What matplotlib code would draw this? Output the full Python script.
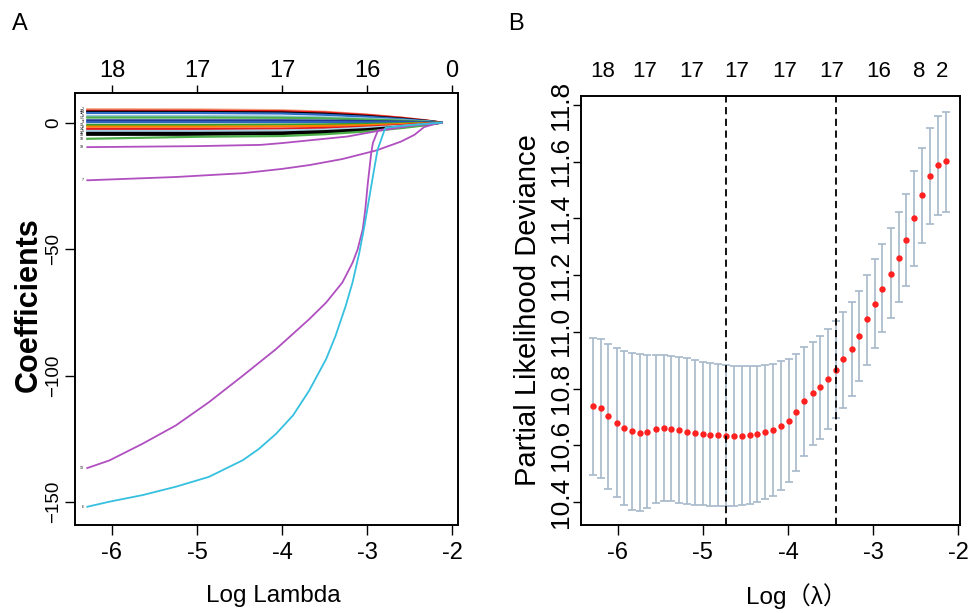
import matplotlib.pyplot as plt
import numpy as np

plt.rcParams['font.family'] = ['Liberation Sans', 'DejaVu Sans']
CJK = ['Liberation Sans', 'Noto Sans CJK SC', 'DejaVu Sans']

# ---------------- panel A : coefficient paths ----------------
knots = [-6.29, -5.0, -4.0, -3.5, -3.0, -2.6, -2.3, -2.12]
bundle = [
    ('#f4a582', [5.3, 5.2, 4.9, 4.3, 3.2, 2.0, 0.9, 0]),
    ('#e41a1c', [4.7, 4.7, 4.5, 4.0, 3.0, 1.9, 0.8, 0]),
    ('black',   [4.3, 4.2, 4.0, 3.5, 2.6, 1.6, 0.7, 0]),
    ('#2f6bc4', [3.8, 3.8, 3.6, 3.1, 2.3, 1.4, 0.6, 0]),
    ('#92c5de', [2.6, 2.6, 2.4, 2.1, 1.6, 1.0, 0.4, 0]),
    ('#4daf4a', [2.0, 2.0, 1.9, 1.7, 1.2, 0.8, 0.3, 0]),
    ('#1f3a93', [0.9, 0.9, 0.9, 0.8, 0.6, 0.4, 0.2, 0]),
    ('#3060c0', [0.2, 0.2, 0.2, 0.2, 0.1, 0.1, 0.0, 0]),
    ('#33a02c', [-0.9, -0.9, -0.8, -0.7, -0.5, -0.3, -0.1, 0]),
    ('#ff7f00', [-1.6, -1.6, -1.5, -1.3, -1.0, -0.6, -0.3, 0]),
    ('#e41a1c', [-2.5, -2.5, -2.4, -2.1, -1.6, -1.0, -0.4, 0]),
    ('#a6cee3', [-3.3, -3.3, -3.1, -2.8, -2.0, -1.3, -0.6, 0]),
    ('black',   [-4.1, -4.1, -3.9, -3.4, -2.6, -1.6, -0.7, 0]),
    ('black',   [-4.8, -4.8, -4.5, -4.0, -3.0, -1.9, -0.8, 0]),
    ('#4daf4a', [-6.4, -5.6, -5.3, -4.6, -3.5, -2.2, -1.0, 0]),
]
bundle_ids = ['2', '15', '4', '11', '9', '17', '1', '3', '12', '8', '14', '5', '16', '18', '10']

p10_x = [-6.29, -5.0, -4.25, -4.0, -3.23, -2.87, -2.44, -2.12]
p10_y = [-9.7, -9.3, -8.8, -8.1, -5.5, -3.3, -1.0, 0]

p7_x = [-6.29, -5.25, -4.46, -4.0, -3.68, -3.29, -2.89, -2.6, -2.44, -2.33, -2.2, -2.12]
p7_y = [-22.8, -21.5, -20.0, -18.3, -16.8, -14.4, -11.0, -7.5, -4.8, -1.8, -0.5, 0]

p13_x = [-6.29, -6.03, -5.64, -5.25, -4.86, -4.46, -4.07, -3.68, -3.48, -3.29, -3.17,
         -3.11, -3.05, -3.02, -2.99, -2.95, -2.93, -2.87, -2.5, -2.12]
p13_y = [-136.5, -133.5, -126.9, -119.7, -110.5, -100.0, -89.5, -77.7, -71.1, -63.2, -55.4,
         -50.1, -42.2, -34.4, -23.9, -12.0, -8.0, -3.0, -1.3, 0]

c6_x = [-6.29, -6.03, -5.64, -5.25, -4.86, -4.46, -4.27, -4.07, -3.87, -3.68, -3.48, -3.37,
        -3.25, -3.17, -3.09, -3.03, -2.97, -2.91, -2.875, -2.80, -2.78, -2.5, -2.12]
c6_y = [-151.8, -149.8, -147.2, -143.9, -140.0, -133.4, -128.9, -123.0, -115.7, -105.9, -93.4, -84.3,
        -72.4, -63.2, -51.4, -40.9, -29.1, -17.3, -10.7, -3.5, -2.0, -1.0, 0]

top_nz_a = ['18', '17', '17', '16', '0']

# ---------------- panel B : cross-validation curve ----------------
log_lam = [-6.29, -6.20, -6.11, -6.01, -5.92, -5.83, -5.74, -5.65, -5.55, -5.46,
           -5.37, -5.28, -5.19, -5.09, -5.00, -4.91, -4.82, -4.73, -4.63, -4.54,
           -4.45, -4.36, -4.27, -4.17, -4.08, -3.99, -3.90, -3.81, -3.71, -3.62,
           -3.53, -3.44, -3.35, -3.25, -3.16, -3.07, -2.98, -2.89, -2.79, -2.70,
           -2.61, -2.52, -2.43, -2.33, -2.24, -2.15]
cvm = [10.738, 10.731, 10.704, 10.680, 10.662, 10.649, 10.643, 10.647, 10.656, 10.660,
       10.656, 10.653, 10.648, 10.643, 10.640, 10.638, 10.635, 10.634, 10.633, 10.634,
       10.635, 10.639, 10.646, 10.654, 10.667, 10.687, 10.716, 10.755, 10.783, 10.804,
       10.833, 10.867, 10.904, 10.940, 10.986, 11.044, 11.100, 11.151, 11.203, 11.259,
       11.325, 11.400, 11.482, 11.551, 11.588, 11.602]
cvup = [10.979, 10.974, 10.958, 10.943, 10.932, 10.926, 10.921, 10.919, 10.917, 10.917,
        10.914, 10.911, 10.907, 10.901, 10.895, 10.891, 10.886, 10.883, 10.881, 10.879,
        10.878, 10.879, 10.882, 10.887, 10.896, 10.905, 10.922, 10.946, 10.966, 10.987,
        11.011, 11.038, 11.070, 11.105, 11.144, 11.199, 11.256, 11.309, 11.365, 11.424,
        11.488, 11.567, 11.649, 11.720, 11.762, 11.774]
cvlo = [10.497, 10.485, 10.447, 10.417, 10.391, 10.373, 10.370, 10.379, 10.396, 10.402,
        10.402, 10.398, 10.394, 10.391, 10.388, 10.387, 10.385, 10.385, 10.387, 10.389,
        10.392, 10.399, 10.409, 10.422, 10.444, 10.471, 10.510, 10.563, 10.600, 10.623,
        10.656, 10.696, 10.733, 10.775, 10.826, 10.883, 10.943, 11.000, 11.050, 11.105,
        11.162, 11.233, 11.312, 11.380, 11.414, 11.424]
lam_min = -4.73
lam_1se = -3.44
top_pos_b = [-6.17, -5.68, -5.13, -4.60, -4.04, -3.49, -2.93, -2.46, -2.19]
top_nz_b = ['18', '17', '17', '17', '17', '17', '16', '8', '2']

fig = plt.figure(figsize=(9.76, 6.13), dpi=100)

# ---------- A ----------
axA = fig.add_axes([0.0768, 0.1436, 0.3924, 0.7047])
for (col, vals), lab in zip(bundle, bundle_ids):
    axA.plot(knots, vals, color=col, lw=1.6)
axA.plot(p10_x, p10_y, color='#b04fc0', lw=1.3)
axA.plot(p7_x, p7_y, color='#b04fc0', lw=1.3)
axA.plot(p13_x, p13_y, color='#b04fc0', lw=1.3)
axA.plot(c6_x, c6_y, color='#35c0e0', lw=1.3)
# tiny variable labels at the path starts (they pile up, as in the original)
lab_y = [v[0] for _, v in bundle] + [p10_y[0], p7_y[0], p13_y[0], c6_y[0]]
lab_t = bundle_ids + ['19', '7', '13', '6']
for yv, t in zip(lab_y, lab_t):
    axA.text(-6.33, yv, t, fontsize=2.5, ha='right', va='center')

axA.set_xlim(-6.435, -1.93)
axA.set_ylim(-159, 11.7)
axA.set_xticks([-6, -5, -4, -3, -2], ['-6', '-5', '-4', '-3', '-2'], fontsize=17)
axA.set_yticks([0, -50, -100, -150], ['0', '\u221250', '\u2212100', '\u2212150'],
               rotation=90, va='center', fontsize=13.5)
axA.tick_params(length=7, width=1, pad=5)
axA.tick_params(axis='y', pad=2)
topA = axA.twiny()
topA.set_xlim(axA.get_xlim())
topA.set_xticks([-6, -5, -4, -3, -2], top_nz_a, fontsize=17)
topA.tick_params(length=6, width=1, pad=2)
for ax in (axA, topA):
    for s in ax.spines.values():
        s.set_linewidth(1.2)

fig.text(29 / 976, 1 - 305 / 613, 'Coefficients', rotation=90, fontsize=22,
         fontweight='bold', ha='center', va='center')
fig.text(273 / 976, 1 - 596 / 613, 'Log Lambda', fontsize=17.5,
         ha='center', va='center')
fig.text(20 / 976, 1 - 24 / 613, 'A', fontsize=17, ha='center', va='center')

# ---------- B ----------
axB = fig.add_axes([0.5953, 0.1436, 0.3883, 0.6998])
lam = np.array(log_lam)
m = np.array(cvm)
axB.errorbar(lam, m, yerr=[m - np.array(cvlo), np.array(cvup) - m], fmt='none',
             ecolor='#a7b9c9', elinewidth=1.2, capsize=2.6, capthick=1.2)
axB.plot(lam, m, 'o', color='#ff2020', ms=4.6, mec='none')
axB.axvline(lam_min, color='black', lw=1.3, ls=(0, (4, 2.5)))
axB.axvline(lam_1se, color='black', lw=1.3, ls=(0, (4, 2.5)))
axB.set_xlim(-6.43, -1.98)
axB.set_ylim(10.319, 11.832)
axB.set_xticks([-6, -5, -4, -3, -2], ['-6', '-5', '-4', '-3', '-2'], fontsize=17)
yt = [10.4, 10.6, 10.8, 11.0, 11.2, 11.4, 11.6, 11.8]
axB.set_yticks(yt, ['%.1f' % v for v in yt], rotation=90, va='center', fontsize=19)
axB.tick_params(length=7, width=1, pad=5)
axB.tick_params(axis='y', length=6, pad=0)
topB = axB.twiny()
topB.set_xlim(axB.get_xlim())
topB.set_xticks(top_pos_b, top_nz_b, fontsize=16)
topB.tick_params(length=0, pad=10)
for ax in (axB, topB):
    for s in ax.spines.values():
        s.set_linewidth(1.2)

fig.text(528 / 976, 1 - 310 / 613, 'Partial Likelihood Deviance', rotation=90,
         fontsize=21, ha='center', va='center')
fig.text(797 / 976, 1 - 596 / 613, 'Log\uff08\u03bb\uff09', fontfamily=CJK, fontsize=17.5,
         ha='center', va='center')
fig.text(516 / 976, 1 - 24 / 613, 'B', fontsize=17, ha='center', va='center')

fig.savefig('out.png', dpi=100)
